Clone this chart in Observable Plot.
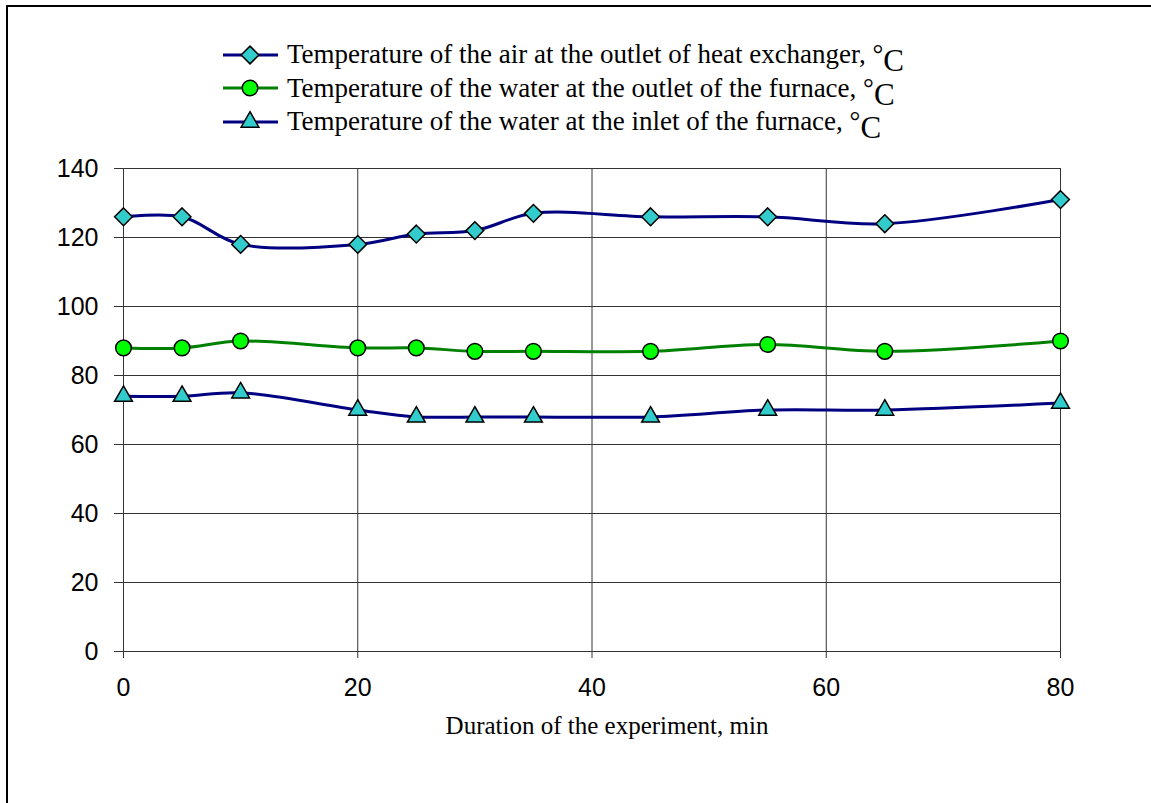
<!DOCTYPE html>
<html>
<head>
<meta charset="utf-8">
<script src="https://cdn.jsdelivr.net/npm/d3@7"></script>
<script src="https://cdn.jsdelivr.net/npm/@observablehq/plot@0.6"></script>
<style>
  html, body { margin: 0; padding: 0; background: #fff; width: 1151px; height: 803px; overflow: hidden; }
  #frame { position: absolute; left: 6px; top: 5px; width: 1300px; height: 1000px; border-left: 2px solid #000; border-top: 2px solid #000; }
  #legend { position: absolute; left: 223px; top: 38px; font-family: "Liberation Serif", "Times New Roman", serif; font-size: 27px; color: #000; }
  .row { height: 33.5px; display: flex; align-items: center; white-space: nowrap; }
  .row svg { width: 64px; height: 30px; flex: none; }
  .bigC { font-size: 31px; position: relative; top: 8px; line-height: 0; }
  #chart { position: absolute; left: 0; top: 150px; }
</style>
</head>
<body>
<div id="frame"></div>
<div id="legend"></div>
<div id="chart"></div>
<script>
const minutes = [0, 5, 10, 20, 25, 30, 35, 45, 55, 65, 80];
const airOutletHX = [126, 126, 118, 118, 121, 122, 127, 126, 126, 124, 131];
const waterOutletFurnace = [88, 88, 90, 88, 88, 87, 87, 87, 89, 87, 90];
const waterInletFurnace = [74, 74, 75, 70, 68, 68, 68, 68, 70, 70, 72];
const seriesNames = [
  "Temperature of the air at the outlet of heat exchanger, ",
  "Temperature of the water at the outlet of the furnace, ",
  "Temperature of the water at the inlet of the furnace, "
];
const yTicks = [0, 20, 40, 60, 80, 100, 120, 140];
const xTicks = [0, 20, 40, 60, 80];
const xLabel = "Duration of the experiment, min";

const series = [
  {name: seriesNames[0], values: airOutletHX, line: "#000080", fill: "#33CCCC", symbol: "diamond2", r: 8},
  {name: seriesNames[1], values: waterOutletFurnace, line: "#008000", fill: "#00FF00", symbol: "circle", r: 7.8},
  {name: seriesNames[2], values: waterInletFurnace, line: "#000080", fill: "#33CCCC", symbol: "triangle", r: 6.6}
];

const tables = series.map(s => minutes.map((m, i) => ({x: m, y: s.values[i]})));

const marks = [
  Plot.gridY(yTicks, {stroke: "#333", strokeOpacity: 1, strokeWidth: 1}),
  Plot.gridX(xTicks, {stroke: "#333", strokeOpacity: 1, strokeWidth: 1}),
  Plot.axisY(yTicks, {tickSize: 9, tickPadding: 16, fontSize: 25, label: null, stroke: "#333"}),
  Plot.axisX(xTicks, {tickSize: 7, tickPadding: 20, fontSize: 25, label: null, stroke: "#333"}),
  Plot.text([xLabel], {frameAnchor: "bottom", dx: 15, dy: 74, lineAnchor: "middle", fontSize: 25, fontFamily: "Liberation Serif, Times New Roman, serif", fill: "#000"})
];
series.forEach((s, k) => {
  marks.push(Plot.line(tables[k], {x: "x", y: "y", stroke: s.line, strokeWidth: 3, curve: "catmull-rom"}));
});
series.forEach((s, k) => {
  marks.push(Plot.dot(tables[k], {x: "x", y: "y", symbol: s.symbol, r: s.r, fill: s.fill, stroke: "#000", strokeWidth: 1.5}));
});

const chart = Plot.plot({
  width: 1151,
  height: 653,
  marginTop: 18,
  marginLeft: 123,
  marginRight: 91,
  marginBottom: 152,
  style: {fontFamily: "Liberation Sans, Arial, sans-serif", color: "#000", background: "transparent", overflow: "visible"},
  x: {domain: [0, 80]},
  y: {domain: [0, 140]},
  marks
});
document.getElementById("chart").appendChild(chart);

// Legend
const legend = document.getElementById("legend");
const symMap = {diamond2: d3.symbolDiamond2, circle: d3.symbolCircle, triangle: d3.symbolTriangle};
series.forEach(s => {
  const row = document.createElement("div");
  row.className = "row";
  const svg = d3.create("svg").attr("viewBox", "0 0 64 30");
  svg.append("line").attr("x1", 0).attr("x2", 55).attr("y1", 15).attr("y2", 15)
    .attr("stroke", s.line).attr("stroke-width", 3);
  svg.append("path").attr("d", d3.symbol(symMap[s.symbol], Math.PI * s.r * s.r)())
    .attr("transform", "translate(27,15)").attr("fill", s.fill).attr("stroke", "#000").attr("stroke-width", 1.5);
  row.appendChild(svg.node());
  const label = document.createElement("span");
  label.textContent = s.name;
  const deg = document.createElement("span");
  deg.textContent = "°";
  const c = document.createElement("span");
  c.className = "bigC";
  c.textContent = "C";
  label.appendChild(deg);
  label.appendChild(c);
  row.appendChild(label);
  legend.appendChild(row);
});
</script>
</body>
</html>
